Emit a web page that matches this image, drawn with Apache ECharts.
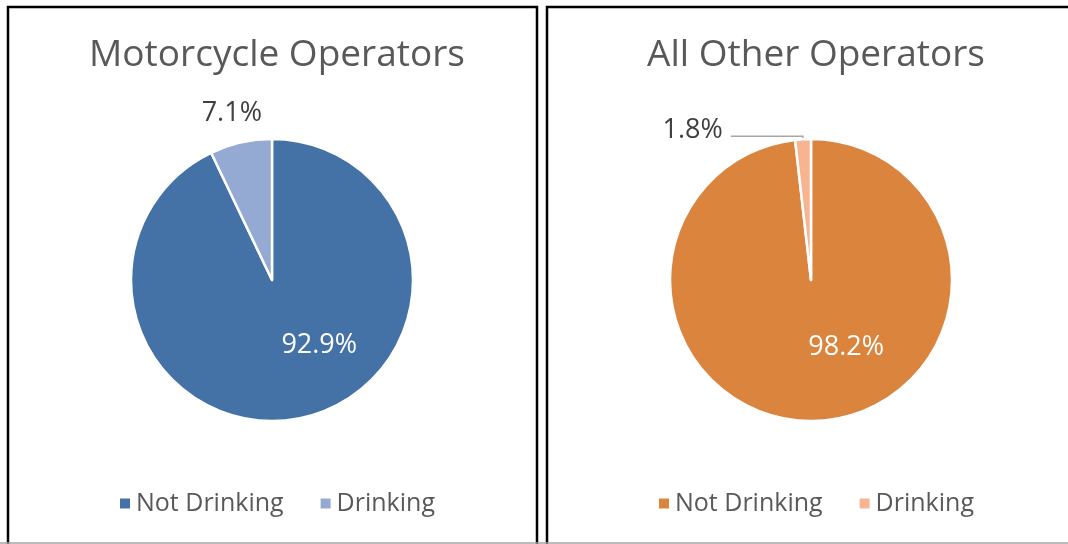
<!DOCTYPE html>
<html>
<head>
<meta charset="utf-8">
<script src="https://cdn.jsdelivr.net/npm/echarts@6/dist/echarts.min.js"></script>
<style>html,body{margin:0;padding:0;background:#fff}#c{width:1068px;height:544px}</style>
</head>
<body>
<div id="c"></div>
<script>
const categories = ['Not Drinking', 'Drinking'];
const titles = ['Motorcycle Operators', 'All Other Operators'];
const motorcycleValues = [92.9, 7.1];
const otherValues = [98.2, 1.8];

const FONT = 'Open Sans';
const chart = echarts.init(document.getElementById('c'), null, {renderer: 'canvas'});

const leftColors = ['#4472A7', '#94AAD3'];
const rightColors = ['#DA843E', '#F8B490'];

function pieSeries(values, colors, center, isRight) {
  return {
    type: 'pie',
    center: center,
    radius: [0, 141],
    startAngle: 90,
    clockwise: true,
    animation: false,
    silent: true,
    itemStyle: {borderColor: '#fff', borderWidth: 2.5},
    data: categories.map((c, i) => ({
      name: c,
      value: values[i],
      itemStyle: {color: colors[i]},
      label: i === 0 ? {
        position: 'inside', color: '#fff', fontSize: 27, fontFamily: FONT
      } : {
        position: 'outside', color: '#404040', fontSize: 27, fontFamily: FONT
      },
      labelLine: i === 0 ? {show: false} : (isRight ? {
        show: true, length: 3, length2: 72, lineStyle: {color: '#A6A6A6', width: 1.5}
      } : {show: false, length: 18, length2: 0})
    })),
    label: {formatter: p => p.value.toFixed(1) + '%'},
    labelLayout: function (p) {
      if (p.dataIndex === 0) return {dx: 31, dy: -6};
      return isRight ? {dx: -3, dy: -6} : {align: 'center', dx: 0, dy: -12};
    }
  };
}

chart.setOption({
  animation: false,
  title: [
    {text: titles[0], left: 272, top: 32, textAlign: 'center',
      textStyle: {fontFamily: FONT, fontSize: 37, fontWeight: 'normal', color: '#595959'}},
    {text: titles[1], left: 811, top: 32, textAlign: 'center',
      textStyle: {fontFamily: FONT, fontSize: 37, fontWeight: 'normal', color: '#595959'}}
  ],
  legend: [
    {data: categories.map((c, i) => ({name: c, itemStyle: {color: leftColors[i]}})),
      left: 113, top: 486, itemWidth: 12, itemHeight: 12, itemGap: 35,
      icon: 'rect', textStyle: {fontFamily: FONT, fontSize: 25, color: '#595959'}},
    {data: categories.map((c, i) => ({name: c, itemStyle: {color: rightColors[i]}})),
      left: 652, top: 486, itemWidth: 12, itemHeight: 12, itemGap: 35,
      icon: 'rect', textStyle: {fontFamily: FONT, fontSize: 25, color: '#595959'}}
  ],
  graphic: [
    {type: 'polyline', silent: true, shape: {points: [[8, 560], [8, 7], [537, 7], [537, 560]]},
      style: {stroke: '#000', lineWidth: 2.5, fill: null}},
    {type: 'polyline', silent: true, shape: {points: [[547, 560], [547, 7], [1080, 7]]},
      style: {stroke: '#000', lineWidth: 2.5, fill: null}},
    {type: 'line', silent: true, shape: {x1: 0, y1: 543, x2: 1068, y2: 543},
      style: {stroke: '#A6A6A6', lineWidth: 1.5}}
  ],
  series: [
    pieSeries(motorcycleValues, leftColors, [272, 280], false),
    pieSeries(otherValues, rightColors, [811, 280], true)
  ]
});
</script>
</body>
</html>
